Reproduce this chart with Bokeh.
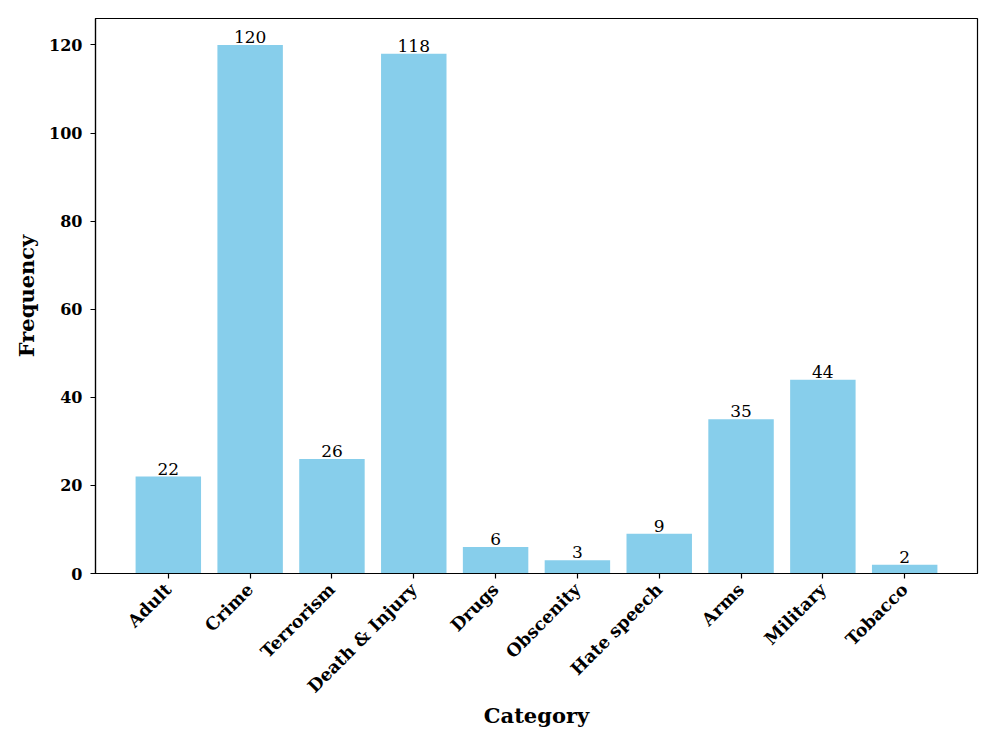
import math
from bokeh.plotting import figure
from bokeh.models import ColumnDataSource, FixedTicker, Range1d
from bokeh.core.properties import value
from bokeh.embed import file_html
from bokeh.resources import INLINE

categories = ["Adult", "Crime", "Terrorism", "Death & Injury", "Drugs",
              "Obscenity", "Hate speech", "Arms", "Military", "Tobacco"]
frequencies = [22, 120, 26, 118, 6, 3, 9, 35, 44, 2]
y_ticks = [0, 20, 40, 60, 80, 100, 120]

xs = list(range(len(categories)))
src = ColumnDataSource(dict(x=xs, top=frequencies, label=[str(v) for v in frequencies]))

FONT = "DejaVu Serif"

p = figure(width=996, height=747, output_backend="svg", toolbar_location=None,
           x_range=Range1d(-0.89, len(categories) - 1 + 0.89), y_range=Range1d(0, 126),
           min_border_left=95, min_border_right=19, min_border_top=18, min_border_bottom=174)
p.frame_width = 882
p.frame_height = 555

p.vbar(x="x", top="top", width=0.8, bottom=0, source=src, fill_color="#87CEEB", line_color=None)
p.text(x="x", y="top", text="label", source=src, text_align="center", text_baseline="bottom",
       text_font=value(FONT), text_font_size="17px", text_color="black", y_offset=-2)

p.xgrid.visible = False
p.ygrid.visible = False
p.outline_line_color = "black"
p.outline_line_width = 1.2

p.xaxis.ticker = FixedTicker(ticks=xs)
p.xaxis.major_label_overrides = {i: c for i, c in enumerate(categories)}
p.xaxis.major_label_orientation = math.pi / 4
p.yaxis.ticker = FixedTicker(ticks=y_ticks)

for ax in (p.xaxis[0], p.yaxis[0]):
    ax.axis_line_color = "black"
    ax.axis_line_width = 1.2
    ax.major_tick_line_color = "black"
    ax.major_tick_line_width = 1.2
    ax.major_tick_out = 5
    ax.major_tick_in = 0
    ax.minor_tick_line_color = None
    ax.major_label_text_font = FONT
    ax.major_label_text_font_style = "bold"
    ax.major_label_text_font_size = "16px"
    ax.major_label_text_color = "black"
    ax.axis_label_text_font = FONT
    ax.axis_label_text_font_style = "bold"
    ax.axis_label_text_font_size = "21px"
    ax.axis_label_text_color = "black"

p.xaxis.major_label_text_font_size = "17.5px"
p.xaxis.major_label_standoff = 8
p.xaxis.axis_label_standoff = -4
p.yaxis.major_label_standoff = 8
p.yaxis.axis_label_standoff = 7

p.xaxis.axis_label = "Category"
p.yaxis.axis_label = "Frequency"

open("out.html", "w").write(file_html(p, INLINE))
